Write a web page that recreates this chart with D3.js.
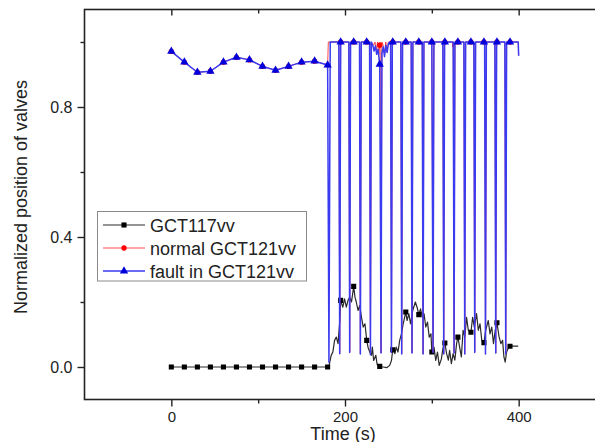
<!DOCTYPE html>
<html><head><meta charset="utf-8">
<script src="https://cdn.jsdelivr.net/npm/d3@7"></script>
<style>
body{margin:0;background:#fff}
svg{display:block}
text{font-family:"Liberation Sans",Arial,sans-serif;fill:#222}
</style>
</head><body>
<svg id="c" width="595" height="442"></svg>
<script>
// ---------- data ----------
const xTickValues = [0, 100, 200, 300, 400];
const xTickLabels = ["0", "", "200", "", "400"];
const yTickValues = [0, 0.2, 0.4, 0.6, 0.8, 1.0];
const yTickLabels = ["0.0", "", "0.4", "", "0.8", ""];
const seriesNames = ["GCT117vv", "normal GCT121vv", "fault in GCT121vv"];
const markerStep = 15;

// GCT117vv  [time s, normalized position]
const gct117 = [
[0,0],[15,0],[30,0],[45,0],[60,0],[75,0],[90,0],[105,0],[120,0],[135,0],[150,0],[165,0],[180,0],
[181.5,0.002],[184,0.035],[186,0.046],[188,0.082],[190,0.092],[192,0.072],[194,0.143],[195,0.205],
[197.5,0.184],[199.5,0.21],[201.5,0.184],[203.5,0.205],[205.5,0.215],[207.5,0.2],[210,0.248],
[211.5,0.215],[213,0.2],[215,0.174],[217,0.189],[219,0.153],[221,0.123],[223,0.133],[225,0.082],
[226.5,0.061],[228.5,0.046],[230.5,0.036],[231.5,0.061],[233,0.02],[235.5,0.036],[237,0.008],[240,0.002],
[244,0.0],[248,-0.002],[251.5,0.005],[253.5,0.02],[255,0.053],[257.5,0.041],[259,0.061],[261,0.046],
[263,0.082],[265,0.102],[267,0.133],[270,0.169],[271.5,0.143],[273.5,0.164],[275.5,0.133],[278,0.174],
[281,0.2],[283,0.184],[285,0.161],[287,0.179],[289,0.153],[291,0.164],[293,0.123],[295,0.138],
[297,0.092],[299,0.102],[300,0.046],[302.5,0.061],[304.5,0.02],[306.5,0.046],[308.5,0.005],[311,0.025],
[313,0.061],[315,0.074],[317,0.041],[319,0.021],[320.5,0.051],[322.5,0.01],[324.5,0.041],[326.5,0.021],
[328.5,0.072],[330,0.092],[332,0.061],[334,0.031],[336,0.113],[338,0.092],[340,0.153],[342,0.113],
[345,0.107],[347,0.153],[349,0.123],[351.5,0.164],[353.5,0.113],[355.5,0.133],[357.5,0.082],[360,0.075],
[362,0.113],[365,0.143],[367,0.102],[369,0.123],[371,0.072],[373,0.113],[375,0.136],[377.5,0.092],
[379.5,0.072],[381.5,0.082],[383,0.031],[384.5,0.015],[386,0.045],[388,0.058],[390,0.064],[399.5,0.064]
];

// normal GCT121vv
const normal121 = [
[0,0.971],[15,0.938],[30,0.907],[45,0.910],[60,0.938],[75,0.953],[90,0.945],[105,0.925],[120,0.913],
[135,0.925],[150,0.938],[165,0.941],[180,0.929],[180.8,1.0],
[192.9,1.0],[193.9,0.041],[195,1.0],[204.4,1.0],[205.4,0.045],[206.4,1.0],[210,1.0],
[216.7,1.0],[217.7,0.04],[218.7,1.0],[225,1.0],[228.3,1.0],[229.3,0.038],[230.3,1.0],
[233,0.99],[234.5,1.0],[236,0.975],[237.5,1.0],[239,0.962],[240,0.99],[240.5,1.0],[241.5,0.043],[242.5,1.0],
[244,0.99],[245.5,0.962],[247,1.0],[248.5,0.968],[250,1.0],
[252.5,1.0],[253.5,0.045],[254.5,1.0],[255,1.0],[264.3,1.0],[265.3,0.04],[266.3,1.0],[270,1.0],
[276.2,1.0],[277.2,0.043],[278.2,1.0],[285,1.0],[288.9,1.0],[289.9,0.04],[290.9,1.0],[300,1.0],
[301.4,0.045],[302.4,1.0],[312.7,1.0],[313.7,0.04],[314.7,1.0],[315,1.0],
[323.5,1.0],[324.1,0.984],[324.6,1.0],[325.6,0.043],[326.6,1.0],[330,1.0],
[336.9,1.0],[337.9,0.04],[338.9,1.0],[345,1.0],[348.4,1.0],[349.4,0.045],[350.4,1.0],[360,1.0],
[360.8,1.0],[361.8,0.04],[362.8,1.0],[372.6,1.0],[373.6,0.043],[374.6,1.0],[375,1.0],
[384.1,1.0],[385.1,0.04],[386.1,1.0],[390,1.0],[399.5,1.0],[400,0.958]
];

// fault in GCT121vv
const fault121 = [
[0,0.971],[15,0.938],[30,0.907],[45,0.910],[60,0.938],[75,0.953],[90,0.945],[105,0.925],[120,0.913],
[135,0.925],[150,0.938],[165,0.941],[180,0.929],[181.5,0.015],[183,1.0],
[192.9,1.0],[193.9,0.041],[195,1.0],[204.4,1.0],[205.4,0.045],[206.4,1.0],[210,1.0],
[216.7,1.0],[217.7,0.04],[218.7,1.0],[225,1.0],[228.3,1.0],[229.3,0.038],[230.3,1.0],
[232,0.99],[233.5,0.972],[235,0.988],[236.5,0.962],[238,0.978],[240,0.931],[241.5,0.043],[242.5,0.965],
[244,0.985],[245.5,0.955],[247,0.99],[248.5,0.968],[250,0.995],[251.5,1.0],
[252.5,1.0],[253.5,0.045],[254.5,1.0],[255,1.0],[264.3,1.0],[265.3,0.04],[266.3,1.0],[270,1.0],
[276.2,1.0],[277.2,0.043],[278.2,1.0],[285,1.0],[288.9,1.0],[289.9,0.04],[290.9,1.0],[300,1.0],
[301.4,0.045],[302.4,1.0],[312.7,1.0],[313.7,0.04],[314.7,1.0],[315,1.0],
[324.6,1.0],[325.6,0.043],[326.6,1.0],[330,1.0],
[336.9,1.0],[337.9,0.04],[338.9,1.0],[345,1.0],[348.4,1.0],[349.4,0.045],[350.4,1.0],[360,1.0],
[360.8,1.0],[361.8,0.04],[362.8,1.0],[372.6,1.0],[373.6,0.043],[374.6,1.0],[375,1.0],
[384.1,1.0],[385.1,0.04],[386.1,1.0],[390,1.0],[399.5,1.0],[400,0.958]
];

// ---------- chart ----------
const svg = d3.select("#c");
const x = d3.scaleLinear().domain([-100, 500]).range([84.5, 605.5]);
const y = d3.scaleLinear().domain([-0.1, 1.1]).range([399.5, 9.5]);

const series = [
  {name: seriesNames[0], data: gct117,    line: "#2a2a2a", mark: "#000000", sym: d3.symbolSquare,   size: 26, w: 1.2},
  {name: seriesNames[1], data: normal121, line: "#ff2020", mark: "#ff0000", sym: d3.symbolCircle,   size: 22, w: 0.8},
  {name: seriesNames[2], data: fault121,  line: "#3a3af0", mark: "#0000dd", sym: d3.symbolTriangle, size: 30, w: 1.5}
];

const plot = svg.append("g");
plot.append("clipPath").attr("id","clip").append("rect")
  .attr("x", 84.5).attr("y", 9.5).attr("width", 521).attr("height", 390);

const line = d3.line().x(d => x(d[0])).y(d => y(d[1]));
const g = plot.append("g").attr("clip-path","url(#clip)");
series.forEach(s => {
  g.append("path").datum(s.data)
    .attr("d", line).attr("fill","none")
    .attr("stroke", s.line).attr("stroke-width", s.w).attr("stroke-linejoin","round");
  g.selectAll(null).data(s.data.filter(d => d[0] % markerStep === 0))
    .enter().append("path")
    .attr("d", d3.symbol().type(s.sym).size(s.size))
    .attr("transform", d => `translate(${x(d[0])},${y(d[1])})`)
    .attr("fill", s.mark);
});

// frame
svg.append("rect").attr("x",84.5).attr("y",9.5).attr("width",521).attr("height",390)
  .attr("fill","none").attr("stroke","#222").attr("stroke-width",1.6);

// axes
const axB = svg.append("g").attr("transform","translate(0,399.5)")
  .call(d3.axisBottom(x).tickValues(xTickValues).tickFormat((d,i)=>xTickLabels[i]).tickSize(7).tickPadding(5).tickSizeOuter(0));
axB.select(".domain").remove();
axB.selectAll(".tick line").attr("y2",(d,i)=>xTickLabels[i]?7:4).attr("stroke","#222").attr("stroke-width",1.4);
axB.selectAll("text").attr("font-size",15).attr("font-family","Liberation Sans, Arial, sans-serif").attr("fill","#222");

const axT = svg.append("g").attr("transform","translate(0,9.5)")
  .call(d3.axisTop(x).tickValues(xTickValues).tickFormat("").tickSize(-6).tickSizeOuter(0));
axT.select(".domain").remove();
axT.selectAll(".tick line").attr("y2",(d,i)=>xTickLabels[i]?6:4).attr("stroke","#222").attr("stroke-width",1.4);

const axL = svg.append("g").attr("transform","translate(84.5,0)")
  .call(d3.axisLeft(y).tickValues(yTickValues).tickFormat((d,i)=>yTickLabels[i]).tickSize(7).tickPadding(5).tickSizeOuter(0));
axL.select(".domain").remove();
axL.selectAll(".tick line").attr("x2",(d,i)=>yTickLabels[i]?-7:-4).attr("stroke","#222").attr("stroke-width",1.4);
axL.selectAll("text").attr("font-size",16).attr("font-family","Liberation Sans, Arial, sans-serif").attr("fill","#222");

// titles
svg.append("text").attr("x",343).attr("y",439.5).attr("text-anchor","middle")
  .attr("font-size",18).text("Time (s)");
svg.append("text").attr("transform","translate(27,197) rotate(-90)").attr("text-anchor","middle")
  .attr("font-size",18).text("Normalized position of valves");

// legend
const lg = svg.append("g");
lg.append("rect").attr("x",97.5).attr("y",211.5).attr("width",209).attr("height",69.5)
  .attr("fill","#fff").attr("stroke","#8a8a8a").attr("stroke-width",1);
const ly = d3.scalePoint().domain(seriesNames).range([225, 271]);
series.forEach(s => {
  const yy = ly(s.name);
  lg.append("line").attr("x1",103).attr("x2",145).attr("y1",yy).attr("y2",yy)
    .attr("stroke", s.line).attr("stroke-width", s.w);
  lg.append("path").attr("d", d3.symbol().type(s.sym).size(s.size))
    .attr("transform", `translate(124,${yy})`).attr("fill", s.mark);
  lg.append("text").attr("x",150).attr("y",yy+6.5).attr("font-size",18).text(s.name);
});
</script>
</body></html>
